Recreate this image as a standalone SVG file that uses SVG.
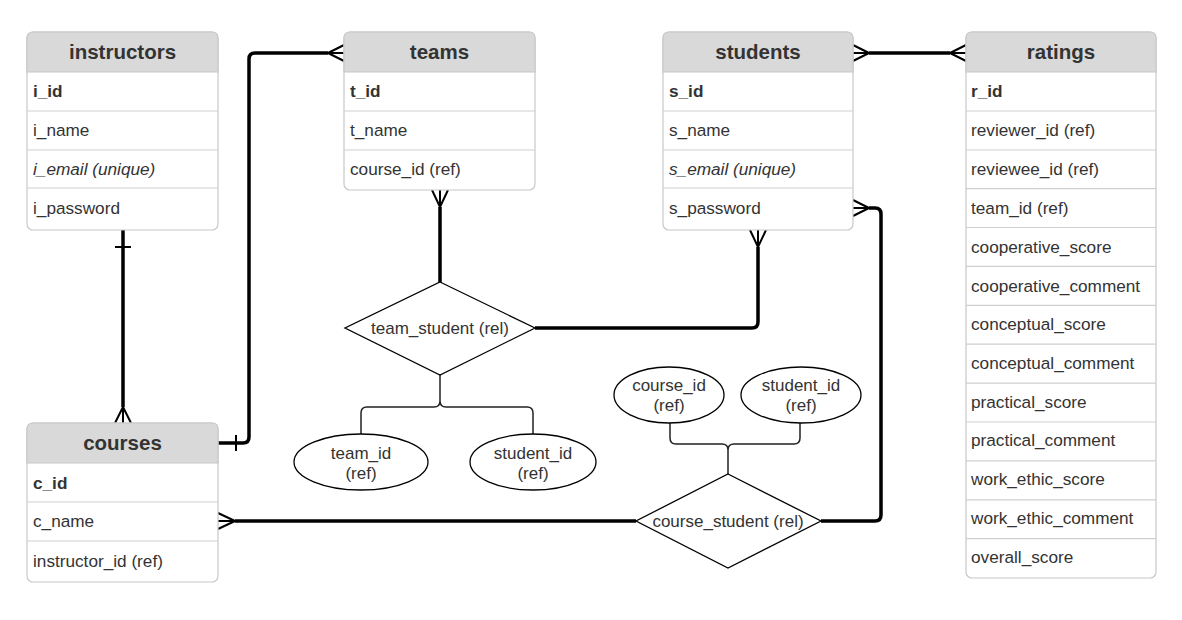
<svg xmlns="http://www.w3.org/2000/svg" width="1182" height="620" viewBox="0 0 1182 620">
<style>
.box{fill:#fff;stroke:#c8c8c8;stroke-width:1.2}
.hdr{fill:#d9d9d9;stroke:#c8c8c8;stroke-width:1.2}
.sep{stroke:#cfcfcf;stroke-width:1.2}
.ht{font-family:"Liberation Sans",Arial,sans-serif;font-size:20.5px;font-weight:bold;fill:#333;text-anchor:middle}
.rt{font-family:"Liberation Sans",Arial,sans-serif;font-size:17.2px;fill:#333}
.pk{font-weight:bold}
.it{font-style:italic}
.ct{font-family:"Liberation Sans",Arial,sans-serif;font-size:17px;fill:#333;text-anchor:middle}
.thick{fill:none;stroke:#000;stroke-width:3.5}
.crow{fill:none;stroke:#000;stroke-width:2}
.thin{fill:none;stroke:#222;stroke-width:1.5}
.shape{fill:#fff;stroke:#000;stroke-width:1.3}
</style>

<g id="connectors">
  <!-- courses -> teams -->
  <path class="thick" d="M218,443 H243 Q249,443 249,437 V59 Q249,53 255,53 H328"/>
  <path class="crow" d="M236,435 V451 M328,53 L344,45 M328,53 L344,53 M328,53 L344,61"/>
  <!-- instructors -> courses -->
  <path class="thick" d="M123,230 V407"/>
  <path class="crow" d="M115,247 H131 M123,407 L115,423 M123,407 L123,423 M123,407 L131,423"/>
  <!-- students <-> ratings -->
  <path class="thick" d="M869,53 H950"/>
  <path class="crow" d="M869,53 L853,45 M869,53 L853,53 M869,53 L853,61 M950,53 L966,45 M950,53 L966,53 M950,53 L966,61"/>
  <!-- teams -> team_student -->
  <path class="thick" d="M440,207 V283"/>
  <path class="crow" d="M440,207 L432,190 M440,207 L440,190 M440,207 L448,190"/>
  <!-- team_student -> students -->
  <path class="thick" d="M535,328 H752 Q758,328 758,322 V247"/>
  <path class="crow" d="M758,247 L750,230 M758,247 L758,230 M758,247 L766,230"/>
  <!-- courses -> course_student -->
  <path class="thick" d="M235,521 H636"/>
  <path class="crow" d="M235,521 L218,513 M235,521 L218,521 M235,521 L218,529"/>
  <!-- course_student -> students -->
  <path class="thick" d="M821,521 H875 Q881,521 881,515 V214 Q881,208 875,208 H869"/>
  <path class="crow" d="M869,208 L853,200 M869,208 L853,208 M869,208 L853,216"/>
  <!-- attribute branches -->
  <path class="thin" d="M440,375 V401 Q440,407 434,407 H367 Q361,407 361,413 V435 M440,401 Q440,407 446,407 H527 Q533,407 533,413 V435"/>
  <path class="thin" d="M728,474 V450 Q728,444 722,444 H676 Q670,444 670,438 V423 M728,450 Q728,444 734,444 H794 Q800,444 800,438 V423"/>
</g>

<g id="instructors">
  <rect class="box" x="27" y="32" width="191" height="198" rx="6"/>
  <path class="hdr" d="M27,72 V38 Q27,32 33,32 H212 Q218,32 218,38 V72 Z"/>
  <path class="sep" d="M27,111 H218 M27,150 H218 M27,188 H218"/>
  <text class="ht" x="122.5" y="59">instructors</text>
  <text class="rt pk" x="33" y="97">i_id</text>
  <text class="rt" x="33" y="136">i_name</text>
  <text class="rt it" x="33" y="175">i_email (unique)</text>
  <text class="rt" x="33" y="214">i_password</text>
</g>

<g id="teams">
  <rect class="box" x="344" y="32" width="191" height="158" rx="6"/>
  <path class="hdr" d="M344,72 V38 Q344,32 350,32 H529 Q535,32 535,38 V72 Z"/>
  <path class="sep" d="M344,111 H535 M344,150 H535"/>
  <text class="ht" x="439.5" y="59">teams</text>
  <text class="rt pk" x="350" y="97">t_id</text>
  <text class="rt" x="350" y="136">t_name</text>
  <text class="rt" x="350" y="175">course_id (ref)</text>
</g>

<g id="students">
  <rect class="box" x="663" y="32" width="190" height="198" rx="6"/>
  <path class="hdr" d="M663,72 V38 Q663,32 669,32 H847 Q853,32 853,38 V72 Z"/>
  <path class="sep" d="M663,111 H853 M663,150 H853 M663,188 H853"/>
  <text class="ht" x="758" y="59">students</text>
  <text class="rt pk" x="669" y="97">s_id</text>
  <text class="rt" x="669" y="136">s_name</text>
  <text class="rt it" x="669" y="175">s_email (unique)</text>
  <text class="rt" x="669" y="214">s_password</text>
</g>

<g id="ratings">
  <rect class="box" x="966" y="32" width="190" height="546" rx="6"/>
  <path class="hdr" d="M966,72 V38 Q966,32 972,32 H1150 Q1156,32 1156,38 V72 Z"/>
  <path class="sep" d="M966,111 H1156 M966,150 H1156 M966,188.6 H1156 M966,227.5 H1156 M966,266.4 H1156 M966,305.3 H1156 M966,344.2 H1156 M966,383.1 H1156 M966,422 H1156 M966,460.9 H1156 M966,499.8 H1156 M966,538.7 H1156"/>
  <text class="ht" x="1061" y="59">ratings</text>
  <text class="rt pk" x="971" y="97">r_id</text>
  <text class="rt" x="971" y="136">reviewer_id (ref)</text>
  <text class="rt" x="971" y="175">reviewee_id (ref)</text>
  <text class="rt" x="971" y="214">team_id (ref)</text>
  <text class="rt" x="971" y="253">cooperative_score</text>
  <text class="rt" x="971" y="292">cooperative_comment</text>
  <text class="rt" x="971" y="330">conceptual_score</text>
  <text class="rt" x="971" y="369">conceptual_comment</text>
  <text class="rt" x="971" y="408">practical_score</text>
  <text class="rt" x="971" y="446">practical_comment</text>
  <text class="rt" x="971" y="485">work_ethic_score</text>
  <text class="rt" x="971" y="524">work_ethic_comment</text>
  <text class="rt" x="971" y="563">overall_score</text>
</g>

<g id="courses">
  <rect class="box" x="27" y="423" width="191" height="159" rx="6"/>
  <path class="hdr" d="M27,463 V429 Q27,423 33,423 H212 Q218,423 218,429 V463 Z"/>
  <path class="sep" d="M27,502 H218 M27,541 H218"/>
  <text class="ht" x="122.5" y="450">courses</text>
  <text class="rt pk" x="33" y="489">c_id</text>
  <text class="rt" x="33" y="527">c_name</text>
  <text class="rt" x="33" y="567">instructor_id (ref)</text>
</g>

<g id="team_student">
  <polygon class="shape" points="440,282 535,328 440,375 345,328"/>
  <text class="ct" x="440" y="334">team_student (rel)</text>
</g>

<g id="course_student">
  <polygon class="shape" points="728,474 821,521 728,568 636,521"/>
  <text class="ct" x="728" y="527">course_student (rel)</text>
</g>

<g id="ts_team_id">
  <ellipse class="shape" cx="361" cy="462" rx="67" ry="28"/>
  <text class="ct" x="361" y="459">team_id</text>
  <text class="ct" x="361" y="479">(ref)</text>
</g>
<g id="ts_student_id">
  <ellipse class="shape" cx="533" cy="462" rx="63" ry="28"/>
  <text class="ct" x="533" y="459">student_id</text>
  <text class="ct" x="533" y="479">(ref)</text>
</g>
<g id="cs_course_id">
  <ellipse class="shape" cx="669" cy="395" rx="55" ry="28"/>
  <text class="ct" x="669" y="391">course_id</text>
  <text class="ct" x="669" y="411">(ref)</text>
</g>
<g id="cs_student_id">
  <ellipse class="shape" cx="801" cy="395" rx="60" ry="28"/>
  <text class="ct" x="801" y="391">student_id</text>
  <text class="ct" x="801" y="411">(ref)</text>
</g>
</svg>
